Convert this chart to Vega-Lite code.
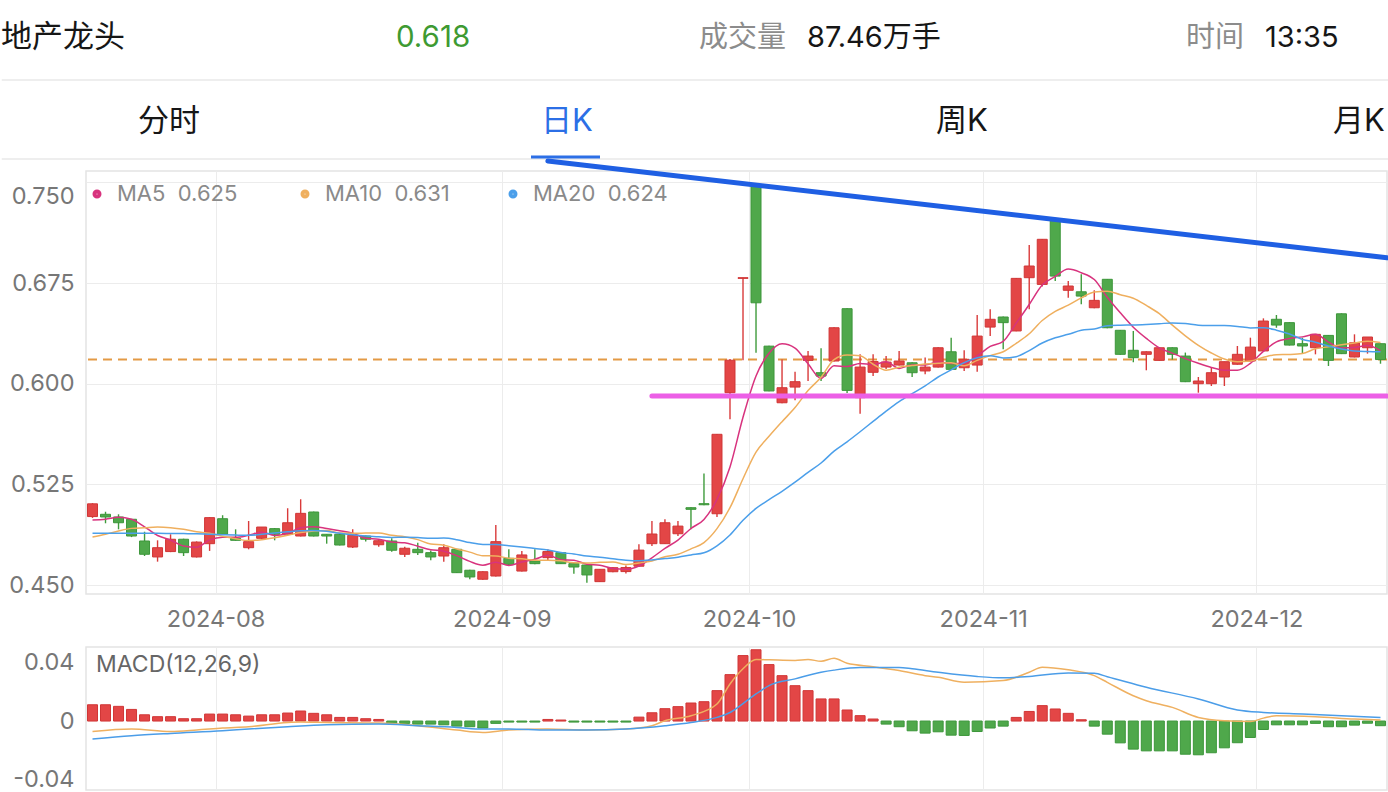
{
"$schema": "https://vega.github.io/schema/vega-lite/v6.json",
"padding": 0,
"background": "white",
"spacing": 53,
"bounds": "flush",
"resolve": {"scale": {"color": "independent"}, "legend": {"color": "independent"}},
"config": {
  "font": "Inter, Noto Sans CJK SC, sans-serif",
  "view": {"stroke": "#e4e4e4", "strokeWidth": 1.5}
},
"datasets": {
"k": [
{"date":"2024-07-18","open":0.501,"high":0.511,"low":0.5,"close":0.5105,"ma5":0.4985,"ma10":0.4858,"ma20":0.4885},
{"date":"2024-07-19","open":0.5027,"high":0.5046,"low":0.496,"close":0.5007,"ma5":0.499,"ma10":0.4878,"ma20":0.4885},
{"date":"2024-07-22","open":0.5007,"high":0.5027,"low":0.4915,"close":0.4964,"ma5":0.5005,"ma10":0.4903,"ma20":0.4885},
{"date":"2024-07-23","open":0.499,"high":0.499,"low":0.4857,"close":0.4865,"ma5":0.499,"ma10":0.4922,"ma20":0.4885},
{"date":"2024-07-24","open":0.4828,"high":0.4897,"low":0.4716,"close":0.4729,"ma5":0.4934,"ma10":0.4927,"ma20":0.4885},
{"date":"2024-07-25","open":0.4709,"high":0.4833,"low":0.4674,"close":0.4778,"ma5":0.4869,"ma10":0.4932,"ma20":0.4885},
{"date":"2024-07-26","open":0.4749,"high":0.4878,"low":0.4745,"close":0.4841,"ma5":0.4835,"ma10":0.4927,"ma20":0.4884},
{"date":"2024-07-29","open":0.4841,"high":0.4845,"low":0.4716,"close":0.4741,"ma5":0.4791,"ma10":0.4915,"ma20":0.4883},
{"date":"2024-07-30","open":0.4709,"high":0.4825,"low":0.4705,"close":0.482,"ma5":0.4782,"ma10":0.4897,"ma20":0.4882},
{"date":"2024-07-31","open":0.4808,"high":0.5005,"low":0.4754,"close":0.5002,"ma5":0.4836,"ma10":0.4885,"ma20":0.4878},
{"date":"2024-08-01","open":0.4994,"high":0.502,"low":0.4875,"close":0.4878,"ma5":0.4856,"ma10":0.4863,"ma20":0.4875},
{"date":"2024-08-02","open":0.4848,"high":0.4915,"low":0.483,"close":0.4833,"ma5":0.4855,"ma10":0.4845,"ma20":0.4872},
{"date":"2024-08-05","open":0.4778,"high":0.4977,"low":0.4766,"close":0.4823,"ma5":0.4871,"ma10":0.4831,"ma20":0.487},
{"date":"2024-08-06","open":0.4848,"high":0.4932,"low":0.4845,"close":0.4932,"ma5":0.4894,"ma10":0.4838,"ma20":0.4878},
{"date":"2024-08-07","open":0.492,"high":0.4925,"low":0.4833,"close":0.4878,"ma5":0.4869,"ma10":0.4853,"ma20":0.4888},
{"date":"2024-08-08","open":0.4878,"high":0.5072,"low":0.4875,"close":0.4964,"ma5":0.4886,"ma10":0.4871,"ma20":0.4897},
{"date":"2024-08-09","open":0.4865,"high":0.5139,"low":0.4862,"close":0.5034,"ma5":0.4926,"ma10":0.4891,"ma20":0.4905},
{"date":"2024-08-12","open":0.5044,"high":0.5047,"low":0.4862,"close":0.4865,"ma5":0.4935,"ma10":0.4903,"ma20":0.4907},
{"date":"2024-08-13","open":0.4878,"high":0.488,"low":0.4808,"close":0.4865,"ma5":0.4921,"ma10":0.4907,"ma20":0.49},
{"date":"2024-08-14","open":0.4878,"high":0.488,"low":0.4795,"close":0.4798,"ma5":0.4905,"ma10":0.4887,"ma20":0.4886},
{"date":"2024-08-15","open":0.4783,"high":0.4915,"low":0.4775,"close":0.487,"ma5":0.4886,"ma10":0.4886,"ma20":0.4874},
{"date":"2024-08-16","open":0.4865,"high":0.4868,"low":0.4825,"close":0.4841,"ma5":0.4848,"ma10":0.4887,"ma20":0.4866},
{"date":"2024-08-19","open":0.48,"high":0.4833,"low":0.4786,"close":0.483,"ma5":0.4841,"ma10":0.4888,"ma20":0.4859},
{"date":"2024-08-20","open":0.4828,"high":0.4848,"low":0.4748,"close":0.4759,"ma5":0.482,"ma10":0.487,"ma20":0.4854},
{"date":"2024-08-21","open":0.4729,"high":0.4785,"low":0.4709,"close":0.4774,"ma5":0.4815,"ma10":0.486,"ma20":0.4856},
{"date":"2024-08-22","open":0.4766,"high":0.4815,"low":0.4724,"close":0.4741,"ma5":0.4789,"ma10":0.4838,"ma20":0.4854},
{"date":"2024-08-23","open":0.4741,"high":0.4758,"low":0.4684,"close":0.4709,"ma5":0.4763,"ma10":0.4805,"ma20":0.4848},
{"date":"2024-08-26","open":0.4716,"high":0.4803,"low":0.4674,"close":0.4778,"ma5":0.4752,"ma10":0.4797,"ma20":0.485},
{"date":"2024-08-27","open":0.4766,"high":0.4768,"low":0.459,"close":0.4592,"ma5":0.4719,"ma10":0.4769,"ma20":0.4838},
{"date":"2024-08-28","open":0.461,"high":0.4613,"low":0.4543,"close":0.456,"ma5":0.4676,"ma10":0.4745,"ma20":0.4816},
{"date":"2024-08-29","open":0.4543,"high":0.4602,"low":0.454,"close":0.4599,"ma5":0.4648,"ma10":0.4718,"ma20":0.4802},
{"date":"2024-08-30","open":0.4567,"high":0.4947,"low":0.4564,"close":0.4823,"ma5":0.467,"ma10":0.4717,"ma20":0.4802},
{"date":"2024-09-02","open":0.4699,"high":0.4766,"low":0.4645,"close":0.4654,"ma5":0.4646,"ma10":0.4699,"ma20":0.4793},
{"date":"2024-09-03","open":0.4604,"high":0.4754,"low":0.46,"close":0.4724,"ma5":0.4672,"ma10":0.4695,"ma20":0.4783},
{"date":"2024-09-04","open":0.4679,"high":0.4766,"low":0.4655,"close":0.4659,"ma5":0.4692,"ma10":0.4684,"ma20":0.4772},
{"date":"2024-09-05","open":0.4704,"high":0.4766,"low":0.4685,"close":0.4749,"ma5":0.4722,"ma10":0.4685,"ma20":0.4761},
{"date":"2024-09-06","open":0.4741,"high":0.4745,"low":0.4656,"close":0.4659,"ma5":0.4689,"ma10":0.468,"ma20":0.4742},
{"date":"2024-09-09","open":0.4659,"high":0.4662,"low":0.4584,"close":0.4634,"ma5":0.4685,"ma10":0.4665,"ma20":0.4731},
{"date":"2024-09-10","open":0.4649,"high":0.4652,"low":0.4517,"close":0.4575,"ma5":0.4655,"ma10":0.4664,"ma20":0.4716},
{"date":"2024-09-11","open":0.4525,"high":0.462,"low":0.4522,"close":0.4617,"ma5":0.4647,"ma10":0.4669,"ma20":0.4707},
{"date":"2024-09-12","open":0.4599,"high":0.4632,"low":0.4596,"close":0.4629,"ma5":0.4623,"ma10":0.4672,"ma20":0.4695},
{"date":"2024-09-13","open":0.46,"high":0.4645,"low":0.4585,"close":0.463,"ma5":0.4617,"ma10":0.4653,"ma20":0.4685},
{"date":"2024-09-18","open":0.464,"high":0.4803,"low":0.4637,"close":0.476,"ma5":0.4642,"ma10":0.4664,"ma20":0.4681},
{"date":"2024-09-19","open":0.4808,"high":0.4977,"low":0.479,"close":0.488,"ma5":0.4703,"ma10":0.4679,"ma20":0.4687},
{"date":"2024-09-20","open":0.4808,"high":0.499,"low":0.4805,"close":0.4964,"ma5":0.4773,"ma10":0.471,"ma20":0.4697},
{"date":"2024-09-23","open":0.4882,"high":0.4977,"low":0.4865,"close":0.4939,"ma5":0.4835,"ma10":0.4729,"ma20":0.4707},
{"date":"2024-09-24","open":0.5076,"high":0.5079,"low":0.4915,"close":0.5064,"ma5":0.4921,"ma10":0.4769,"ma20":0.4724},
{"date":"2024-09-25","open":0.5106,"high":0.533,"low":0.5095,"close":0.5098,"ma5":0.4989,"ma10":0.4816,"ma20":0.474},
{"date":"2024-09-26","open":0.5031,"high":0.5626,"low":0.5007,"close":0.5623,"ma5":0.5138,"ma10":0.492,"ma20":0.4792},
{"date":"2024-09-27","open":0.5933,"high":0.6185,"low":0.5735,"close":0.6175,"ma5":0.538,"ma10":0.5076,"ma20":0.4873},
{"date":"2024-09-30","open":0.6785,"high":0.679,"low":0.6175,"close":0.679,"ma5":0.575,"ma10":0.5292,"ma20":0.4982},
{"date":"2024-10-08","open":0.747,"high":0.747,"low":0.623,"close":0.6603,"ma5":0.6058,"ma10":0.549,"ma20":0.5071},
{"date":"2024-10-09","open":0.628,"high":0.6283,"low":0.5943,"close":0.5946,"ma5":0.6227,"ma10":0.5608,"ma20":0.5136},
{"date":"2024-10-10","open":0.5858,"high":0.618,"low":0.5855,"close":0.597,"ma5":0.6297,"ma10":0.5717,"ma20":0.5198},
{"date":"2024-10-11","open":0.5975,"high":0.609,"low":0.5876,"close":0.6015,"ma5":0.6265,"ma10":0.5822,"ma20":0.5266},
{"date":"2024-10-14","open":0.6174,"high":0.6244,"low":0.602,"close":0.6206,"ma5":0.6148,"ma10":0.5949,"ma20":0.5339},
{"date":"2024-10-15","open":0.6082,"high":0.6264,"low":0.602,"close":0.6057,"ma5":0.6039,"ma10":0.6048,"ma20":0.5409},
{"date":"2024-10-16","open":0.6169,"high":0.642,"low":0.6166,"close":0.6417,"ma5":0.6133,"ma10":0.618,"ma20":0.5498},
{"date":"2024-10-17","open":0.6559,"high":0.6562,"low":0.593,"close":0.595,"ma5":0.6129,"ma10":0.6213,"ma20":0.5567},
{"date":"2024-10-18","open":0.5896,"high":0.622,"low":0.5776,"close":0.6124,"ma5":0.6151,"ma10":0.6208,"ma20":0.5642},
{"date":"2024-10-21","open":0.6085,"high":0.622,"low":0.6057,"close":0.6165,"ma5":0.6143,"ma10":0.6145,"ma20":0.5719},
{"date":"2024-10-22","open":0.6124,"high":0.6206,"low":0.611,"close":0.6161,"ma5":0.6163,"ma10":0.6101,"ma20":0.5795},
{"date":"2024-10-23","open":0.6139,"high":0.6244,"low":0.6136,"close":0.6169,"ma5":0.6114,"ma10":0.6123,"ma20":0.5866},
{"date":"2024-10-24","open":0.6156,"high":0.6159,"low":0.605,"close":0.6082,"ma5":0.614,"ma10":0.6135,"ma20":0.5926},
{"date":"2024-10-25","open":0.6095,"high":0.6196,"low":0.607,"close":0.6124,"ma5":0.614,"ma10":0.6146,"ma20":0.5984},
{"date":"2024-10-28","open":0.6124,"high":0.6271,"low":0.6121,"close":0.6268,"ma5":0.6161,"ma10":0.6152,"ma20":0.605},
{"date":"2024-10-29","open":0.6238,"high":0.6343,"low":0.6104,"close":0.6107,"ma5":0.615,"ma10":0.6157,"ma20":0.6103},
{"date":"2024-10-30","open":0.6119,"high":0.6249,"low":0.6095,"close":0.6182,"ma5":0.6153,"ma10":0.6133,"ma20":0.6157},
{"date":"2024-10-31","open":0.6139,"high":0.6512,"low":0.609,"close":0.6355,"ma5":0.6207,"ma10":0.6174,"ma20":0.6193},
{"date":"2024-11-01","open":0.6422,"high":0.6554,"low":0.6355,"close":0.648,"ma5":0.6278,"ma10":0.6209,"ma20":0.6209},
{"date":"2024-11-04","open":0.6497,"high":0.65,"low":0.6256,"close":0.6455,"ma5":0.6316,"ma10":0.6238,"ma20":0.6192},
{"date":"2024-11-05","open":0.6393,"high":0.6788,"low":0.639,"close":0.6785,"ma5":0.6451,"ma10":0.6301,"ma20":0.6201},
{"date":"2024-11-06","open":0.679,"high":0.7033,"low":0.6554,"close":0.6877,"ma5":0.659,"ma10":0.6372,"ma20":0.6247},
{"date":"2024-11-07","open":0.674,"high":0.7079,"low":0.6725,"close":0.7076,"ma5":0.6735,"ma10":0.6471,"ma20":0.6303},
{"date":"2024-11-08","open":0.7227,"high":0.723,"low":0.6765,"close":0.6802,"ma5":0.6799,"ma10":0.6539,"ma20":0.6342},
{"date":"2024-11-11","open":0.6696,"high":0.6765,"low":0.664,"close":0.6728,"ma5":0.6854,"ma10":0.6585,"ma20":0.6368},
{"date":"2024-11-12","open":0.6685,"high":0.6815,"low":0.6592,"close":0.6653,"ma5":0.6827,"ma10":0.6639,"ma20":0.6398},
{"date":"2024-11-13","open":0.6566,"high":0.6696,"low":0.6563,"close":0.6621,"ma5":0.6776,"ma10":0.6683,"ma20":0.6408},
{"date":"2024-11-14","open":0.6778,"high":0.6781,"low":0.6414,"close":0.6417,"ma5":0.6644,"ma10":0.6689,"ma20":0.6432},
{"date":"2024-11-15","open":0.6398,"high":0.6401,"low":0.6216,"close":0.6219,"ma5":0.6528,"ma10":0.6663,"ma20":0.6436},
{"date":"2024-11-18","open":0.6249,"high":0.6393,"low":0.616,"close":0.6194,"ma5":0.6421,"ma10":0.6637,"ma20":0.6438},
{"date":"2024-11-19","open":0.6219,"high":0.6241,"low":0.61,"close":0.6238,"ma5":0.6338,"ma10":0.6583,"ma20":0.6442},
{"date":"2024-11-20","open":0.6174,"high":0.6271,"low":0.6171,"close":0.6268,"ma5":0.6267,"ma10":0.6522,"ma20":0.6447},
{"date":"2024-11-21","open":0.6268,"high":0.6271,"low":0.618,"close":0.6219,"ma5":0.6228,"ma10":0.6436,"ma20":0.6453},
{"date":"2024-11-22","open":0.6206,"high":0.6232,"low":0.6012,"close":0.6015,"ma5":0.6187,"ma10":0.6357,"ma20":0.6448},
{"date":"2024-11-25","open":0.6,"high":0.605,"low":0.5933,"close":0.602,"ma5":0.6152,"ma10":0.6286,"ma20":0.6436},
{"date":"2024-11-26","open":0.6,"high":0.6124,"low":0.5983,"close":0.6082,"ma5":0.6121,"ma10":0.6229,"ma20":0.6434},
{"date":"2024-11-27","open":0.605,"high":0.6164,"low":0.5983,"close":0.6164,"ma5":0.61,"ma10":0.6184,"ma20":0.6433},
{"date":"2024-11-28","open":0.6145,"high":0.6281,"low":0.6142,"close":0.6219,"ma5":0.61,"ma10":0.6164,"ma20":0.6427},
{"date":"2024-11-29","open":0.6169,"high":0.6343,"low":0.6166,"close":0.6273,"ma5":0.6152,"ma10":0.6169,"ma20":0.6416},
{"date":"2024-12-02","open":0.6244,"high":0.6487,"low":0.6241,"close":0.6467,"ma5":0.6241,"ma10":0.6197,"ma20":0.6417},
{"date":"2024-12-03","open":0.648,"high":0.6512,"low":0.6417,"close":0.6437,"ma5":0.6312,"ma10":0.6216,"ma20":0.6399},
{"date":"2024-12-04","open":0.6455,"high":0.6458,"low":0.6285,"close":0.6288,"ma5":0.6337,"ma10":0.6218,"ma20":0.637},
{"date":"2024-12-05","open":0.6298,"high":0.6343,"low":0.6224,"close":0.6281,"ma5":0.6349,"ma10":0.6225,"ma20":0.633},
{"date":"2024-12-06","open":0.6268,"high":0.6368,"low":0.6219,"close":0.6368,"ma5":0.6368,"ma10":0.626,"ma20":0.6309},
{"date":"2024-12-09","open":0.636,"high":0.6363,"low":0.6132,"close":0.6174,"ma5":0.631,"ma10":0.6275,"ma20":0.6281},
{"date":"2024-12-10","open":0.6521,"high":0.6524,"low":0.6221,"close":0.6224,"ma5":0.6267,"ma10":0.629,"ma20":0.6259},
{"date":"2024-12-11","open":0.6199,"high":0.6368,"low":0.6196,"close":0.6305,"ma5":0.627,"ma10":0.6304,"ma20":0.6244},
{"date":"2024-12-12","open":0.6268,"high":0.6348,"low":0.6224,"close":0.6348,"ma5":0.6284,"ma10":0.6317,"ma20":0.624},
{"date":"2024-12-13","open":0.6298,"high":0.6301,"low":0.6149,"close":0.618,"ma5":0.6246,"ma10":0.6307,"ma20":0.6238}
],
"macd": [
{"date":"2024-07-18","hist":0.0112},{"date":"2024-07-19","hist":0.0112},{"date":"2024-07-22","hist":0.0101},{"date":"2024-07-23","hist":0.008},{"date":"2024-07-24","hist":0.0043},
{"date":"2024-07-25","hist":0.003},{"date":"2024-07-26","hist":0.003},{"date":"2024-07-29","hist":0.0016},{"date":"2024-07-30","hist":0.0016},{"date":"2024-07-31","hist":0.0048},
{"date":"2024-08-01","hist":0.0048},{"date":"2024-08-02","hist":0.0043},{"date":"2024-08-05","hist":0.0034},{"date":"2024-08-06","hist":0.0043},{"date":"2024-08-07","hist":0.0043},
{"date":"2024-08-08","hist":0.0055},{"date":"2024-08-09","hist":0.0069},{"date":"2024-08-12","hist":0.0053},{"date":"2024-08-13","hist":0.0043},{"date":"2024-08-14","hist":0.0025},
{"date":"2024-08-15","hist":0.0025},{"date":"2024-08-16","hist":0.0016},{"date":"2024-08-19","hist":0.0011},{"date":"2024-08-20","hist":-0.0016},{"date":"2024-08-21","hist":-0.0016},
{"date":"2024-08-22","hist":-0.0021},{"date":"2024-08-23","hist":-0.0021},{"date":"2024-08-26","hist":-0.0026},{"date":"2024-08-27","hist":-0.0035},{"date":"2024-08-28","hist":-0.0039},
{"date":"2024-08-29","hist":-0.0048},{"date":"2024-08-30","hist":-0.0016},{"date":"2024-09-02","hist":-0.0007},{"date":"2024-09-03","hist":-0.0007},{"date":"2024-09-04","hist":-0.0007},
{"date":"2024-09-05","hist":0.0011},{"date":"2024-09-06","hist":0.0007},{"date":"2024-09-09","hist":-0.0007},{"date":"2024-09-10","hist":-0.0007},{"date":"2024-09-11","hist":-0.0007},
{"date":"2024-09-12","hist":-0.0007},{"date":"2024-09-13","hist":-0.0007},{"date":"2024-09-18","hist":0.0027},{"date":"2024-09-19","hist":0.0057},{"date":"2024-09-20","hist":0.0085},
{"date":"2024-09-23","hist":0.0099},{"date":"2024-09-24","hist":0.0124},{"date":"2024-09-25","hist":0.0133},{"date":"2024-09-26","hist":0.0209},{"date":"2024-09-27","hist":0.0319},
{"date":"2024-09-30","hist":0.045},{"date":"2024-10-08","hist":0.049},{"date":"2024-10-09","hist":0.0388},{"date":"2024-10-10","hist":0.0312},{"date":"2024-10-11","hist":0.0243},
{"date":"2024-10-14","hist":0.0209},{"date":"2024-10-15","hist":0.0152},{"date":"2024-10-16","hist":0.0152},{"date":"2024-10-17","hist":0.0076},{"date":"2024-10-18","hist":0.0037},
{"date":"2024-10-21","hist":0.0014},{"date":"2024-10-22","hist":-0.0021},{"date":"2024-10-23","hist":-0.0039},{"date":"2024-10-24","hist":-0.0067},{"date":"2024-10-25","hist":-0.0083},
{"date":"2024-10-28","hist":-0.0074},{"date":"2024-10-29","hist":-0.0097},{"date":"2024-10-30","hist":-0.0099},{"date":"2024-10-31","hist":-0.0072},{"date":"2024-11-01","hist":-0.0048},
{"date":"2024-11-04","hist":-0.0035},{"date":"2024-11-05","hist":0.0025},{"date":"2024-11-06","hist":0.0066},{"date":"2024-11-07","hist":0.0106},{"date":"2024-11-08","hist":0.0083},
{"date":"2024-11-11","hist":0.0053},{"date":"2024-11-12","hist":0.0009},{"date":"2024-11-13","hist":-0.0035},{"date":"2024-11-14","hist":-0.009},{"date":"2024-11-15","hist":-0.015},
{"date":"2024-11-18","hist":-0.0193},{"date":"2024-11-19","hist":-0.0205},{"date":"2024-11-20","hist":-0.0205},{"date":"2024-11-21","hist":-0.0205},{"date":"2024-11-22","hist":-0.0228},
{"date":"2024-11-25","hist":-0.0232},{"date":"2024-11-26","hist":-0.0218},{"date":"2024-11-27","hist":-0.0184},{"date":"2024-11-28","hist":-0.0149},{"date":"2024-11-29","hist":-0.0113},
{"date":"2024-12-02","hist":-0.0058},{"date":"2024-12-03","hist":-0.0026},{"date":"2024-12-04","hist":-0.0026},{"date":"2024-12-05","hist":-0.0026},{"date":"2024-12-06","hist":-0.0016},
{"date":"2024-12-09","hist":-0.0039},{"date":"2024-12-10","hist":-0.0039},{"date":"2024-12-11","hist":-0.0028},{"date":"2024-12-12","hist":-0.0015},{"date":"2024-12-13","hist":-0.0032}
],
"lines": [
{"date":"2024-07-18","line":"DIF","value":-0.0072},{"date":"2024-07-23","line":"DIF","value":-0.0055},{"date":"2024-07-26","line":"DIF","value":-0.0072},{"date":"2024-07-30","line":"DIF","value":-0.0062},
{"date":"2024-08-01","line":"DIF","value":-0.0048},{"date":"2024-08-05","line":"DIF","value":-0.0039},{"date":"2024-08-08","line":"DIF","value":-0.001},{"date":"2024-08-09","line":"DIF","value":-0.0007},
{"date":"2024-08-13","line":"DIF","value":-0.001},{"date":"2024-08-19","line":"DIF","value":-0.0014},{"date":"2024-08-22","line":"DIF","value":-0.0032},{"date":"2024-08-27","line":"DIF","value":-0.0062},
{"date":"2024-08-29","line":"DIF","value":-0.0078},{"date":"2024-09-02","line":"DIF","value":-0.0062},{"date":"2024-09-05","line":"DIF","value":-0.0055},{"date":"2024-09-10","line":"DIF","value":-0.0062},
{"date":"2024-09-13","line":"DIF","value":-0.0055},{"date":"2024-09-19","line":"DIF","value":-0.0032},{"date":"2024-09-20","line":"DIF","value":0.0002},{"date":"2024-09-24","line":"DIF","value":0.0037},
{"date":"2024-09-26","line":"DIF","value":0.0117},{"date":"2024-09-27","line":"DIF","value":0.0255},{"date":"2024-09-30","line":"DIF","value":0.0359},{"date":"2024-10-08","line":"DIF","value":0.0423},
{"date":"2024-10-09","line":"DIF","value":0.0421},{"date":"2024-10-11","line":"DIF","value":0.0417},{"date":"2024-10-14","line":"DIF","value":0.0423},{"date":"2024-10-15","line":"DIF","value":0.0411},
{"date":"2024-10-16","line":"DIF","value":0.0432},{"date":"2024-10-17","line":"DIF","value":0.0397},{"date":"2024-10-21","line":"DIF","value":0.0374},{"date":"2024-10-23","line":"DIF","value":0.0347},
{"date":"2024-10-25","line":"DIF","value":0.0312},{"date":"2024-10-28","line":"DIF","value":0.0301},{"date":"2024-10-30","line":"DIF","value":0.0266},{"date":"2024-11-04","line":"DIF","value":0.0278},
{"date":"2024-11-06","line":"DIF","value":0.0335},{"date":"2024-11-07","line":"DIF","value":0.037},{"date":"2024-11-11","line":"DIF","value":0.0352},{"date":"2024-11-13","line":"DIF","value":0.0312},
{"date":"2024-11-14","line":"DIF","value":0.0266},{"date":"2024-11-18","line":"DIF","value":0.0174},{"date":"2024-11-19","line":"DIF","value":0.014},{"date":"2024-11-21","line":"DIF","value":0.0094},
{"date":"2024-11-25","line":"DIF","value":0.0025},{"date":"2024-11-27","line":"DIF","value":0.0002},{"date":"2024-11-29","line":"DIF","value":-0.0003},{"date":"2024-12-02","line":"DIF","value":0.002},
{"date":"2024-12-03","line":"DIF","value":0.0037},{"date":"2024-12-06","line":"DIF","value":0.003},{"date":"2024-12-11","line":"DIF","value":0.0014},{"date":"2024-12-13","line":"DIF","value":0.0007},
{"date":"2024-07-18","line":"DEA","value":-0.0124},{"date":"2024-07-23","line":"DEA","value":-0.0101},{"date":"2024-07-26","line":"DEA","value":-0.0085},{"date":"2024-08-01","line":"DEA","value":-0.0067},
{"date":"2024-08-05","line":"DEA","value":-0.0055},{"date":"2024-08-08","line":"DEA","value":-0.0039},{"date":"2024-08-13","line":"DEA","value":-0.0026},{"date":"2024-08-19","line":"DEA","value":-0.0021},
{"date":"2024-08-22","line":"DEA","value":-0.0032},{"date":"2024-08-27","line":"DEA","value":-0.0044},{"date":"2024-08-29","line":"DEA","value":-0.0055},{"date":"2024-09-02","line":"DEA","value":-0.0055},
{"date":"2024-09-05","line":"DEA","value":-0.0062},{"date":"2024-09-10","line":"DEA","value":-0.0062},{"date":"2024-09-13","line":"DEA","value":-0.0055},{"date":"2024-09-20","line":"DEA","value":-0.0032},
{"date":"2024-09-24","line":"DEA","value":-0.001},{"date":"2024-09-26","line":"DEA","value":0.0025},{"date":"2024-09-27","line":"DEA","value":0.0059},{"date":"2024-09-30","line":"DEA","value":0.012},
{"date":"2024-10-08","line":"DEA","value":0.0186},{"date":"2024-10-09","line":"DEA","value":0.0243},{"date":"2024-10-11","line":"DEA","value":0.029},{"date":"2024-10-15","line":"DEA","value":0.0335},
{"date":"2024-10-16","line":"DEA","value":0.035},{"date":"2024-10-18","line":"DEA","value":0.0368},{"date":"2024-10-23","line":"DEA","value":0.0368},{"date":"2024-10-24","line":"DEA","value":0.0359},
{"date":"2024-10-28","line":"DEA","value":0.0335},{"date":"2024-10-31","line":"DEA","value":0.0306},{"date":"2024-11-04","line":"DEA","value":0.0297},{"date":"2024-11-06","line":"DEA","value":0.0306},
{"date":"2024-11-11","line":"DEA","value":0.0331},{"date":"2024-11-13","line":"DEA","value":0.0328},{"date":"2024-11-14","line":"DEA","value":0.0305},{"date":"2024-11-19","line":"DEA","value":0.0232},
{"date":"2024-11-25","line":"DEA","value":0.0152},{"date":"2024-11-28","line":"DEA","value":0.0076},{"date":"2024-12-02","line":"DEA","value":0.0059},{"date":"2024-12-05","line":"DEA","value":0.0048},
{"date":"2024-12-10","line":"DEA","value":0.0037},{"date":"2024-12-13","line":"DEA","value":0.0025}
]
},
"vconcat": [
{
  "width": 1301, "height": 117,
  "view": {"stroke": "transparent"},
  "layer": [
    {"data": {"values": [{"t": "地产龙头"}]}, "mark": {"type": "text", "align": "left", "baseline": "middle", "fontSize": 31, "color": "#161616"}, "encoding": {"text": {"field": "t"}, "x": {"value": -85}, "y": {"value": 37}}},
    {"data": {"values": [{"t": "0.618"}]}, "mark": {"type": "text", "align": "left", "baseline": "middle", "fontSize": 29.5, "color": "#3e9a32"}, "encoding": {"text": {"field": "t"}, "x": {"value": 310}, "y": {"value": 37}}},
    {"data": {"values": [{"t": "成交量"}]}, "mark": {"type": "text", "align": "left", "baseline": "middle", "fontSize": 29, "color": "#8c8c8c"}, "encoding": {"text": {"field": "t"}, "x": {"value": 613}, "y": {"value": 37}}},
    {"data": {"values": [{"t": "87.46万手"}]}, "mark": {"type": "text", "align": "left", "baseline": "middle", "fontSize": 29, "color": "#161616"}, "encoding": {"text": {"field": "t"}, "x": {"value": 721}, "y": {"value": 37}}},
    {"data": {"values": [{"t": "时间"}]}, "mark": {"type": "text", "align": "left", "baseline": "middle", "fontSize": 29, "color": "#8c8c8c"}, "encoding": {"text": {"field": "t"}, "x": {"value": 1100}, "y": {"value": 37}}},
    {"data": {"values": [{"t": "13:35"}]}, "mark": {"type": "text", "align": "left", "baseline": "middle", "fontSize": 29, "color": "#161616"}, "encoding": {"text": {"field": "t"}, "x": {"value": 1179}, "y": {"value": 37}}},
    {"data": {"values": [{"t": "分时"}]}, "mark": {"type": "text", "align": "center", "baseline": "middle", "fontSize": 31, "color": "#161616"}, "encoding": {"text": {"field": "t"}, "x": {"value": 83}, "y": {"value": 121}}},
    {"data": {"values": [{"t": "日K"}]}, "mark": {"type": "text", "align": "center", "baseline": "middle", "fontSize": 31, "color": "#2c6fe6"}, "encoding": {"text": {"field": "t"}, "x": {"value": 481}, "y": {"value": 121}}},
    {"data": {"values": [{"t": "周K"}]}, "mark": {"type": "text", "align": "center", "baseline": "middle", "fontSize": 31, "color": "#161616"}, "encoding": {"text": {"field": "t"}, "x": {"value": 876}, "y": {"value": 121}}},
    {"data": {"values": [{"t": "月K"}]}, "mark": {"type": "text", "align": "center", "baseline": "middle", "fontSize": 31, "color": "#161616"}, "encoding": {"text": {"field": "t"}, "x": {"value": 1273}, "y": {"value": 121}}},
    {"data": {"values": [{"s": "top"}]}, "mark": {"type": "rule", "color": "#e8e8e8", "strokeWidth": 1.5}, "encoding": {"x": {"value": -84.25}, "x2": {"value": 1303}, "y": {"value": 79}}},
    {"data": {"values": [{"s": "bottom"}]}, "mark": {"type": "rule", "color": "#e8e8e8", "strokeWidth": 1.5}, "encoding": {"x": {"value": -84.25}, "x2": {"value": 1303}, "y": {"value": 158}}},
    {"data": {"values": [{"s": "tab"}]}, "mark": {"type": "rule", "color": "#2c6fe6", "strokeWidth": 3}, "encoding": {"x": {"value": 445}, "x2": {"value": 514}, "y": {"value": 156}}}
  ]
},
{
  "width": 1301, "height": 423,
  "layer": [
    {
      "data": {"values": [{"price": 0.618}]},
      "mark": {"type": "rule", "color": "#e39a45", "strokeWidth": 2, "strokeDash": [9, 6]},
      "encoding": {
        "y": {"field": "price", "type": "quantitative",
              "scale": {"domain": [0.4433, 0.7585], "nice": false, "zero": false},
              "axis": {"values": [0.45, 0.525, 0.6, 0.675, 0.75], "format": ".3f", "grid": true, "gridColor": "#ececec", "ticks": false, "domain": false, "labelFontSize": 23.5, "labelColor": "#777777", "labelPadding": 12, "title": null,
                       "labelOffset": {"condition": {"test": "datum.value > 0.74", "value": 14}, "value": 0}}}
      }
    },
    {
      "data": {"name": "k"},
      "mark": {"type": "rule", "strokeWidth": 1.4},
      "encoding": {
        "x": {"field": "date", "type": "ordinal", "scale": {"type": "band", "paddingInner": 0, "paddingOuter": 0},
              "axis": {"values": ["2024-08-01", "2024-09-02", "2024-10-08", "2024-11-01", "2024-12-02"], "bandPosition": 0, "labelOffset": -6.5, "labelExpr": "slice(datum.value, 0, 7)", "labelAngle": 0, "grid": true, "gridColor": "#ececec", "ticks": false, "domain": false, "labelFontSize": 23.5, "labelColor": "#777777", "labelPadding": 13, "title": null}},
        "y": {"field": "low", "type": "quantitative"},
        "y2": {"field": "high"},
        "color": {"condition": {"test": "datum.close >= datum.open", "value": "#d93a3a"}, "value": "#3f9b3c"}
      }
    },
    {
      "data": {"name": "k"},
      "mark": {"type": "bar", "width": 10, "strokeWidth": 1},
      "encoding": {
        "x": {"field": "date", "type": "ordinal"},
        "y": {"field": "open", "type": "quantitative"},
        "y2": {"field": "close"},
        "fill": {"condition": {"test": "datum.close >= datum.open", "value": "#e34646"}, "value": "#4fa84b"},
        "stroke": {"condition": {"test": "datum.close >= datum.open", "value": "#d03636"}, "value": "#3c963a"}
      }
    },
    {
      "data": {"name": "k"},
      "transform": [{"fold": ["ma5", "ma10", "ma20"], "as": ["series", "value"]}],
      "mark": {"type": "line", "strokeWidth": 1.5, "interpolate": "monotone"},
      "encoding": {
        "x": {"field": "date", "type": "ordinal"},
        "y": {"field": "value", "type": "quantitative"},
        "color": {"field": "series", "type": "nominal",
                  "scale": {"domain": ["ma5", "ma10", "ma20"], "range": ["#d8337e", "#efaf5e", "#4b9fea"]},
                  "legend": {"orient": "none", "legendX": 0, "legendY": 12, "direction": "horizontal", "columns": 3, "gridAlign": "all", "columnPadding": 41, "title": null,
                             "symbolType": "circle", "symbolSize": 16, "symbolStrokeWidth": 5, "labelFontSize": 22, "labelColor": "#8a8a8a", "labelOffset": 9, "padding": 0,
                             "labelExpr": "datum.label == 'ma5' ? 'MA5\u00a0\u00a00.625' : datum.label == 'ma10' ? 'MA10\u00a0\u00a00.631' : 'MA20\u00a0\u00a00.624'"}}
      }
    },
    {
      "data": {"values": [{"from": "2024-09-19", "to": "2024-12-13", "level": 0.5908}]},
      "mark": {"type": "rule", "color": "#ec5fe6", "strokeWidth": 5, "strokeCap": "round"},
      "encoding": {
        "x": {"field": "from", "type": "ordinal"},
        "x2": {"field": "to", "bandPosition": 1},
        "y": {"field": "level", "type": "quantitative"}
      }
    },
    {
      "data": {"values": [{"from": "2024-09-05", "to": "2024-12-13", "start": 0.7659, "end": 0.6938}]},
      "mark": {"type": "rule", "color": "#1f5fe3", "strokeWidth": 5, "strokeCap": "round"},
      "encoding": {
        "x": {"field": "from", "type": "ordinal"},
        "x2": {"field": "to", "bandPosition": 1},
        "y": {"field": "start", "type": "quantitative"},
        "y2": {"field": "end"}
      }
    }
  ]
},
{
  "width": 1301, "height": 143,
  "title": {"text": "MACD(12,26,9)", "anchor": "start", "orient": "top", "frame": "group", "offset": -19, "dy": 22, "baseline": "middle", "fontSize": 23, "fontWeight": "normal", "color": "#666666", "dx": 10},
  "layer": [
    {
      "data": {"name": "macd"},
      "mark": {"type": "bar", "width": 10, "strokeWidth": 1},
      "encoding": {
        "x": {"field": "date", "type": "ordinal", "scale": {"type": "band", "paddingInner": 0, "paddingOuter": 0},
              "axis": {"values": ["2024-08-01", "2024-09-02", "2024-10-08", "2024-11-01", "2024-12-02"], "bandPosition": 0, "labels": false, "grid": true, "gridColor": "#ececec", "ticks": false, "domain": false, "title": null}},
        "y": {"field": "hist", "type": "quantitative", "scale": {"domain": [-0.0474, 0.0509], "nice": false, "zero": false},
              "axis": {"values": [-0.04, 0, 0.04], "labelExpr": "datum.value > 0.01 ? '0.04' : (datum.value < -0.01 ? '-0.04' : '0')", "grid": false, "ticks": false, "domain": false, "labelFontSize": 23.5, "labelColor": "#777777", "labelPadding": 12, "title": null}},
        "y2": {"datum": 0},
        "fill": {"condition": {"test": "datum.hist >= 0", "value": "#e34646"}, "value": "#4fa84b"},
        "stroke": {"condition": {"test": "datum.hist >= 0", "value": "#d03636"}, "value": "#3c963a"}
      }
    },
    {
      "data": {"name": "lines"},
      "mark": {"type": "line", "strokeWidth": 1.5, "interpolate": "monotone"},
      "encoding": {
        "x": {"field": "date", "type": "ordinal"},
        "y": {"field": "value", "type": "quantitative"},
        "color": {"field": "line", "type": "nominal", "scale": {"domain": ["DIF", "DEA"], "range": ["#efb060", "#4b9de8"]}, "legend": null}
      }
    }
  ]
}
]
}
